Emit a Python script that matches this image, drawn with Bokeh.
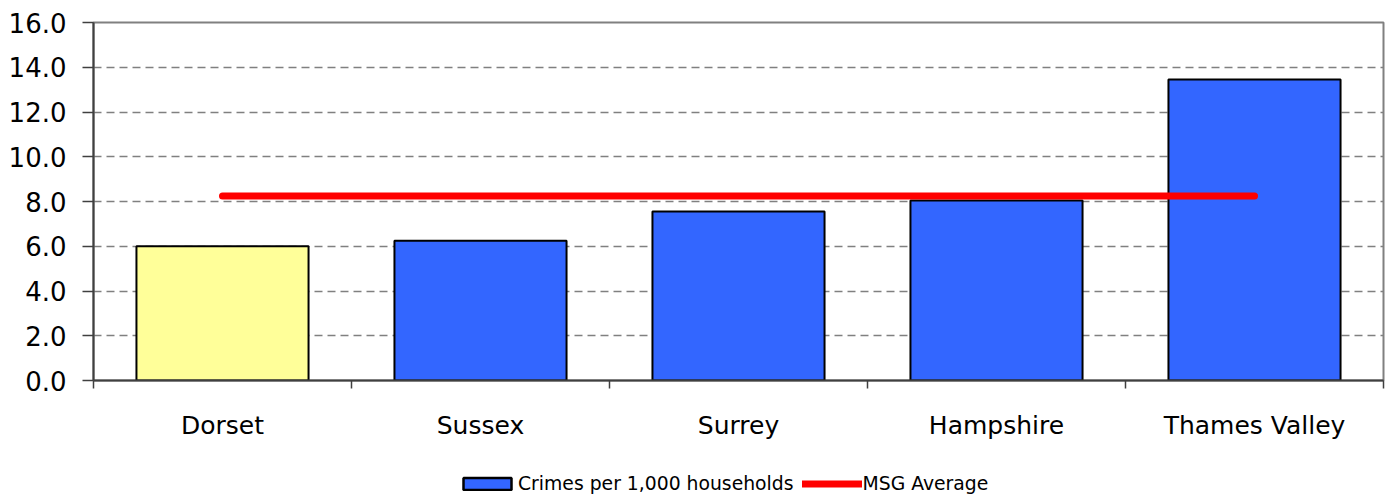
from bokeh.plotting import figure
from bokeh.layouts import column
from bokeh.models import (Range1d, FixedTicker, NumeralTickFormatter, Legend, LegendItem,
                          ColumnDataSource)
from bokeh.embed import file_html
from bokeh.resources import INLINE

# ---- data ----
regions = ["Dorset", "Sussex", "Surrey", "Hampshire", "Thames Valley"]
crimes = [6.0, 6.25, 7.55, 8.05, 13.45]
bar_colors = ["#FFFF99", "#3366FF", "#3366FF", "#3366FF", "#3366FF"]
msg_average = 8.25
y_ticks = [0, 2, 4, 6, 8, 10, 12, 14, 16]
series_names = ["Crimes per 1,000 households", "MSG Average"]

n = len(regions)
centers = [i + 0.5 for i in range(n)]
bounds = [float(i) for i in range(n + 1)]

FONT = "DejaVu Sans"
BLUE = "#3366FF"
RED = "#FF0000"

p = figure(width=1388, height=455, output_backend="svg", toolbar_location=None,
           x_range=Range1d(0, n), y_range=Range1d(0, 16),
           min_border_left=93, min_border_right=5, min_border_top=22, min_border_bottom=75)
p.background_fill_color = "white"
p.border_fill_color = "white"
p.outline_line_color = "#808080"
p.outline_line_width = 2

src = ColumnDataSource(dict(x=centers, top=crimes, color=bar_colors))
bars = p.vbar(x="x", top="top", width=0.667, bottom=0, source=src,
              fill_color="color", line_color="black", line_width=2)

avg_line = p.line(x=[centers[0], centers[-1]], y=[msg_average, msg_average],
                  line_color=RED, line_width=7, line_cap="round")

# axes
xa = p.xaxis[0]
xa.ticker = FixedTicker(ticks=centers, minor_ticks=bounds)
xa.major_label_overrides = {c: r for c, r in zip(centers, regions)}
xa.major_tick_line_color = None
xa.major_tick_out = 0
xa.major_tick_in = 0
xa.minor_tick_out = 8
xa.minor_tick_in = 0
xa.minor_tick_line_color = "#404040"
xa.minor_tick_line_width = 1.5
xa.axis_line_color = "#404040"
xa.axis_line_width = 2
xa.major_label_text_font = FONT
xa.major_label_text_font_size = "25px"
xa.major_label_text_color = "black"
xa.major_label_standoff = 22

ya = p.yaxis[0]
ya.ticker = FixedTicker(ticks=y_ticks)
ya.formatter = NumeralTickFormatter(format="0.0")
ya.major_tick_out = 11
ya.major_tick_in = 0
ya.major_tick_line_color = "#404040"
ya.major_tick_line_width = 1.5
ya.minor_tick_line_color = None
ya.axis_line_color = "#404040"
ya.axis_line_width = 2
ya.major_label_text_font = FONT
ya.major_label_text_font_size = "26px"
ya.major_label_text_color = "black"
ya.major_label_standoff = 16

p.xgrid.grid_line_color = None
p.ygrid.ticker = FixedTicker(ticks=y_ticks)
p.ygrid.grid_line_color = "#808080"
p.ygrid.grid_line_dash = "8 5"
p.ygrid.grid_line_width = 1.5

# ---- legend strip below the chart ----
nan = float("nan")
lg = figure(width=1388, height=40, output_backend="svg", toolbar_location=None,
            x_axis_type=None, y_axis_type=None, x_range=Range1d(0, 1), y_range=Range1d(0, 1),
            min_border=0, min_border_left=0, min_border_right=0,
            min_border_top=0, min_border_bottom=0)
lg.outline_line_color = None
lg.grid.visible = False
lb = lg.vbar(x=[nan], top=[nan], width=0.5, fill_color=BLUE, line_color="black", line_width=2.5)
ll = lg.line(x=[nan, nan], y=[nan, nan], line_color=RED, line_width=7, line_cap="round")
legend = Legend(items=[LegendItem(label=series_names[0], renderers=[lb]),
                       LegendItem(label=series_names[1], renderers=[ll])],
                orientation="horizontal", location=(364, 1),
                glyph_width=60, glyph_height=15, label_standoff=1, spacing=8,
                padding=0, margin=0, border_line_color=None, background_fill_alpha=0,
                label_text_font=FONT, label_text_font_size="18.8px", label_text_color="black")
lg.add_layout(legend, "center")

open("out.html", "w").write(file_html(column(p, lg, spacing=0), INLINE))
